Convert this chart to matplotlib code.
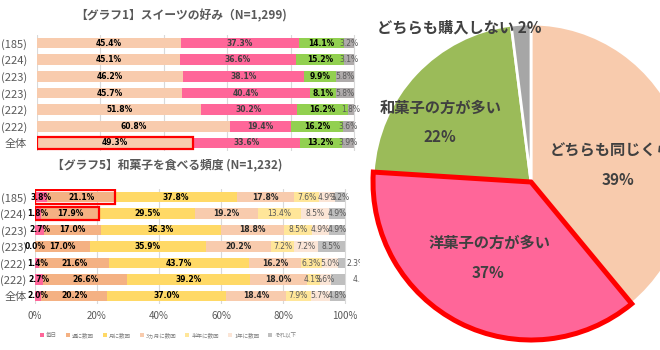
import numpy as np
import matplotlib
matplotlib.use('Agg')
import matplotlib.pyplot as plt
from matplotlib.patches import Rectangle

plt.rcParams['font.family'] = ['Noto Sans CJK JP', 'DejaVu Sans']

W, H = 660, 350

#===================
# Datos
#===================
# 【グラフ1】スイーツの好み
rows1 = ['(185)', '(224)', '(223)', '(223)', '(222)', '(222)', '全体']
onaji = [45.4, 45.1, 46.2, 45.7, 51.8, 60.8, 49.3]
yougashi = [37.3, 36.6, 38.1, 40.4, 30.2, 19.4, 33.6]
wagashi = [14.1, 15.2, 9.9, 8.1, 16.2, 16.2, 13.2]
konyu_nashi = [3.2, 3.1, 5.8, 5.8, 1.8, 3.6, 3.9]

# 【グラフ5】和菓子を食べる頻度
rows5 = ['(185)', '(224)', '(223)', '(223)', '(222)', '(222)', '全体']
freq_labels = ['毎日', '週に数回', '月に数回', '3ヵ月に数回', '半年に数回', '1年に数回', 'それ以下']
mainichi = [3.8, 1.8, 2.7, 0.0, 1.4, 2.7, 2.0]
shuu = [21.1, 17.9, 17.0, 17.0, 21.6, 26.6, 20.2]
tsuki = [37.8, 29.5, 36.3, 35.9, 43.7, 39.2, 37.0]
sankagetsu = [17.8, 19.2, 18.8, 20.2, 16.2, 18.0, 18.4]
hantoshi = [7.6, 13.4, 8.5, 7.2, 6.3, 4.1, 7.9]
ichinen = [4.9, 8.5, 4.9, 7.2, 5.0, 3.6, 5.7]
sore_ika = [3.2, 4.9, 4.9, 8.5, 2.3, 4.5, 4.8]

# 円グラフ
pie_labels = ['どちらも同じくらい', '洋菓子の方が多い', '和菓子の方が多い', 'どちらも購入しない']
pie_values = [39, 37, 22, 2]


def box(x0, y0, x1, y1):
    # pixel box -> figure fraction
    return [x0 / W, 1 - y1 / H, (x1 - x0) / W, (y1 - y0) / H]


def stacked(ax, series, colors, txt_colors, weights, outside=None):
    outside = outside or {}
    data = np.array(series, dtype=float)
    share = data / data.sum(axis=0) * 100   # 100% stacked como Excel
    y = np.arange(data.shape[1])
    left = np.zeros(data.shape[1])
    conts = []
    last = len(series) - 1
    for i in range(len(series)):
        c = ax.barh(y, share[i], left=left, color=colors[i], height=0.65, zorder=2)
        conts.append(c)
        for j in y:
            if i == last and j in outside:
                x, ha = outside[j], 'left'
            else:
                x, ha = left[j] + share[i][j] / 2, 'center'
            ax.text(x, j, f'{data[i][j]:.1f}%', ha=ha, va='center', fontsize=5.5,
                    color=txt_colors[i], fontweight=weights[i], zorder=4,
                    clip_on=(i == last), family=['DejaVu Sans'])
        left += share[i]
    return data, share, conts


def style(ax, rows, xmax, pad):
    ax.set_xlim(0, xmax)
    ax.set_ylim(len(rows) - 0.5, -0.5)
    ax.set_yticks(range(len(rows)))
    ax.set_yticklabels(rows, fontsize=8, color='#595959')
    ax.set_xticks([0, 20, 40, 60, 80, 100])
    ax.grid(axis='x', color='#D9D9D9', linewidth=0.8, zorder=0)
    ax.tick_params(axis='y', length=0, pad=pad)
    ax.tick_params(axis='x', length=0)
    for s in ax.spines.values():
        s.set_visible(False)


fig = plt.figure(figsize=(6.6, 3.5), dpi=100)
fig.patch.set_facecolor('white')

#===================
# Grafica 1
#===================
ax1 = fig.add_axes(box(37, 34.7, 360, 151.3))
d1, s1, c1 = stacked(ax1, [onaji, yougashi, wagashi, konyu_nashi],
                     ['#F8CBAD', '#FF6699', '#92D050', '#AFABAB'],
                     ['#000000', '#404040', '#000000', '#595959'],
                     ['bold', 'bold', 'bold', 'normal'])
style(ax1, rows1, 100 * (360 - 37) / 317, 7)
ax1.set_xticklabels([])
# resaltar 全体
ax1.add_patch(Rectangle((0, 6 - 0.36), s1[0][6], 0.72, fill=False,
                        edgecolor='#FF0000', linewidth=1.6, zorder=5))
fig.text(181 / W, 1 - 16 / H, '【グラフ1】スイーツの好み（N=1,299)', ha='center', va='center',
         fontsize=8.5, fontweight='bold', color='#595959')

#===================
# Grafica 5
#===================
ax5 = fig.add_axes(box(35, 188.75, 360, 304.25))
d5, s5, c5 = stacked(ax5, [mainichi, shuu, tsuki, sankagetsu, hantoshi, ichinen, sore_ika],
                     ['#FF6699', '#F4B183', '#FFD966', '#F8CBAD', '#FFE699', '#FBE5D6', '#BFBFBF'],
                     ['#000000', '#000000', '#000000', '#262626', '#595959', '#595959', '#595959'],
                     ['bold', 'bold', 'bold', 'bold', 'normal', 'normal', 'normal'],
                     outside={4: 100.4, 5: 102.3})
style(ax5, rows5, 100 * (360 - 35) / 310, 6)
ax5.set_xticklabels([f'{v}%' for v in range(0, 101, 20)])
ax5.tick_params(axis='x', pad=5, labelsize=7, labelcolor='#595959')
for j in (0, 1):
    ax5.add_patch(Rectangle((0, j - 0.42), s5[0][j] + s5[1][j], 0.84, fill=False,
                            edgecolor='#FF0000', linewidth=1.6, zorder=5))
fig.text(167 / W, 1 - 165 / H, '【グラフ5】和菓子を食べる頻度 (N=1,232)', ha='center', va='center',
         fontsize=8.5, fontweight='bold', color='#595959')
fig.legend([c[0] for c in c5], freq_labels, loc='center', bbox_to_anchor=(168 / W, 1 - 335 / H),
           ncol=7, frameon=False, prop={'size': 4}, handlelength=0.7, handleheight=0.7,
           handletextpad=0.4, columnspacing=1.6, labelcolor='#7F7F7F')

#===================
# Pie
#===================
axp = fig.add_axes(box(373, 24, 689, 340))
wedges, _ = axp.pie(pie_values, colors=['#F8CBAD', '#FF6699', '#9BBB59', '#A6A6A6'],
                    startangle=90, counterclock=False,
                    wedgeprops=dict(edgecolor='white', linewidth=2))
wedges[1].set_edgecolor('#FF0000')
wedges[1].set_linewidth(3.6)
wedges[1].set_zorder(3)
axp.set_xlim(-1, 1)
axp.set_ylim(-1, 1)
axp.set_aspect('equal')

kw = dict(ha='center', va='center', fontsize=11, fontweight='bold', color='#404040', zorder=6)
axp.text(0.55, 0.20, pie_labels[0], **kw)
axp.text(0.55, 0.013, f'{pie_values[0]}%', **kw)
axp.text(-0.26, -0.386, pie_labels[1], **kw)
axp.text(-0.272, -0.576, f'{pie_values[1]}%', **kw)
axp.text(-0.57, 0.468, pie_labels[2], **kw)
axp.text(-0.576, 0.285, f'{pie_values[2]}%', **kw)
axp.text(-0.456, 0.975, f'{pie_labels[3]} {pie_values[3]}%', **kw)

fig.savefig('out.png', dpi=100, facecolor='white')
